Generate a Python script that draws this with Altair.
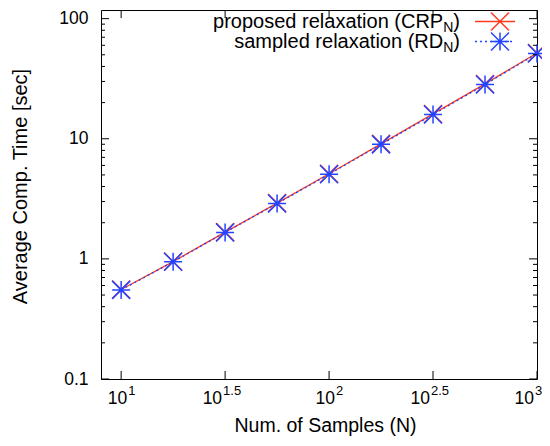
import altair as alt
import pandas as pd

# ---- data ----
samples = [10, 17.78, 31.62, 56.23, 100, 177.8, 316.2, 562.3, 1000]
crp_time = [0.556, 0.95, 1.67, 2.91, 5.11, 9.07, 16.1, 28.6, 51.7]
rd_time = [0.552, 0.945, 1.66, 2.89, 5.06, 8.98, 15.9, 28.3, 51.2]

series_labels = ["proposed relaxation (CRP", "sampled relaxation (RD"]
series_sub = ["N", "N"]

x_tick_values = [10, 31.62, 100, 316.2, 1000]
x_tick_exponents = ["1", "1.5", "2", "2.5", "3"]
x_tick_kind = ["int", "frac", "int", "frac", "end"]
y_major_ticks = [0.1, 1, 10, 100]
y_minor_ticks = [0.2, 0.3, 0.4, 0.5, 0.6, 0.7, 0.8, 0.9,
                 2, 3, 4, 5, 6, 7, 8, 9,
                 20, 30, 40, 50, 60, 70, 80, 90]

# ---- layout / style ----
W, H = 436, 369
RED = "#ff3b1f"
BLUE = "#2244ff"
FONT = "Liberation Sans"
X_PATH = "M-1,-1L1,1M-1,1L1,-1"
STAR_PATH = "M-1,-1L1,1M-1,1L1,-1M0,-1L0,1M-1,0L1,0"

xs = alt.Scale(type="log", domain=[8, 1000])
ys = alt.Scale(type="log", domain=[0.1, 118])

df = pd.DataFrame({"N": samples, "crp": crp_time, "rd": rd_time})

x_axis = alt.Axis(labels=False, ticks=False, domain=False, grid=False,
                  title="Num. of Samples (N)", titleFont=FONT, titleFontSize=19.5,
                  titleFontWeight="normal", titleColor="black",
                  titleX=224, titleY=46, titleBaseline="middle")
y_axis = alt.Axis(values=y_major_ticks, format="~g", ticks=False, domain=False,
                  grid=False, labelPadding=13, labelFont=FONT, labelFontSize=17.5,
                  labelColor="black",
                  title="Average Comp. Time [sec]", titleFont=FONT, titleFontSize=20,
                  titleFontWeight="normal", titleColor="black",
                  titleX=-81, titleY=176, titleBaseline="middle", titleAlign="center",
                  titleAngle=270)

XE = alt.X("N:Q", scale=xs, axis=x_axis)

base = alt.Chart(df)
red_line = base.mark_line(color=RED, strokeWidth=1.3).encode(
    x=XE, y=alt.Y("crp:Q", scale=ys, axis=y_axis))
red_pts = base.mark_point(shape=X_PATH, size=324, filled=False, color=RED,
                          strokeWidth=1.5, opacity=1).encode(
    x=XE, y=alt.Y("crp:Q", scale=ys, axis=y_axis))
blue_line = base.mark_line(color=BLUE, strokeWidth=1.3, strokeDash=[2, 3]).encode(
    x=XE, y=alt.Y("rd:Q", scale=ys, axis=y_axis))
blue_pts = base.mark_point(shape=STAR_PATH, size=324, filled=False, color=BLUE,
                           strokeWidth=1.5, opacity=1).encode(
    x=XE, y=alt.Y("rd:Q", scale=ys, axis=y_axis))

# ---- ticks drawn inward on all four sides ----
ymaj = alt.Chart(pd.DataFrame({"v": y_major_ticks}))
ymin = alt.Chart(pd.DataFrame({"v": y_minor_ticks}))
xmaj = alt.Chart(pd.DataFrame({"v": x_tick_values}))

def yrule(ch, x0, x1):
    return ch.mark_rule(color="black", strokeWidth=1).encode(
        y=alt.Y("v:Q", scale=ys, axis=y_axis), x=alt.value(x0), x2=alt.value(x1))

def xrule(ch, y0, y1):
    return ch.mark_rule(color="black", strokeWidth=1).encode(
        x=alt.X("v:Q", scale=xs, axis=x_axis), y=alt.value(y0), y2=alt.value(y1))

ticks = [yrule(ymaj, 0, 8), yrule(ymaj, W, W - 8),
         yrule(ymin, 0, 4), yrule(ymin, W, W - 4),
         xrule(xmaj, H, H - 8), xrule(xmaj, 0, 8)]

# ---- x tick labels 10^k with superscript ----
xt = alt.Chart(pd.DataFrame({"v": x_tick_values, "e": x_tick_exponents,
                             "k": x_tick_kind, "b": ["10"] * 5}))

def xlabel(kind, dx_base):
    src = xt.transform_filter(alt.datum.k == kind)
    b = src.mark_text(align="right", baseline="middle", font=FONT, fontSize=17.5,
                      color="black", dx=dx_base).encode(
        x=alt.X("v:Q", scale=xs, axis=x_axis), y=alt.value(H + 20), text="b:N")
    e = src.mark_text(align="left", baseline="middle", font=FONT, fontSize=13,
                      color="black", dx=dx_base + 1).encode(
        x=alt.X("v:Q", scale=xs, axis=x_axis), y=alt.value(H + 12), text="e:N")
    return [b, e]

xlabels = xlabel("int", 6) + xlabel("frac", -3) + xlabel("end", -3)

# ---- legend (top right inside the frame) ----
LEG_END = 359
leg_rows = [11.5, 31.5]
legend = []
for i, (lab, sub, col, path, dash) in enumerate(
        [(series_labels[0], series_sub[0], RED, X_PATH, [1, 0]),
         (series_labels[1], series_sub[1], BLUE, STAR_PATH, [2, 3])]):
    ld = alt.Chart(pd.DataFrame({"t": [lab], "s": [sub], "p": [")"]}))
    yy = leg_rows[i]
    legend.append(ld.mark_text(align="right", baseline="middle", font=FONT,
                               fontSize=20, color="black").encode(
        x=alt.value(LEG_END - 6.7 - 10.1), y=alt.value(yy), text="t:N"))
    legend.append(ld.mark_text(align="right", baseline="middle", font=FONT,
                               fontSize=14, color="black").encode(
        x=alt.value(LEG_END - 6.7), y=alt.value(yy + 6), text="s:N"))
    legend.append(ld.mark_text(align="right", baseline="middle", font=FONT,
                               fontSize=20, color="black").encode(
        x=alt.value(LEG_END), y=alt.value(yy), text="p:N"))
    legend.append(ld.mark_rule(color=col, strokeWidth=1.3, strokeDash=dash).encode(
        x=alt.value(374), x2=alt.value(414), y=alt.value(yy)))
    legend.append(ld.mark_point(shape=path, size=324, filled=False, color=col,
                                strokeWidth=1.5, opacity=1).encode(
        x=alt.value(399), y=alt.value(yy)))

chart = alt.layer(red_line, red_pts, blue_line, blue_pts, *ticks, *xlabels,
                  *legend).properties(
    width=W, height=H,
    autosize=alt.AutoSizeParams(type="none"),
    padding={"left": 93, "top": 2, "right": 5, "bottom": 57},
    background="white",
).configure_view(stroke="black", strokeWidth=1)

chart.save("out.html", embed_options={"renderer": "svg", "actions": False})
